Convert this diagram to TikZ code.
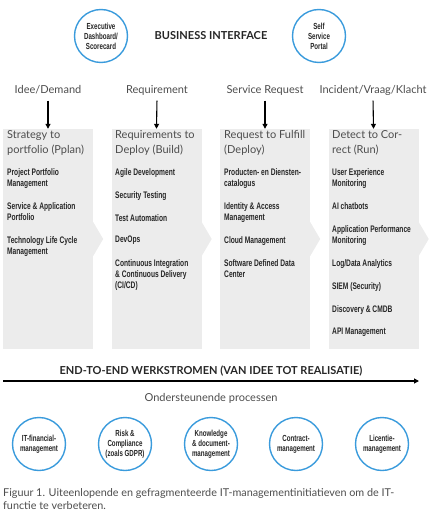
\documentclass[tikz,border=0pt]{standalone}
\usepackage{fontspec}
\setmainfont{Lato}
\newfontfamily\condfont[FakeStretch=0.7]{Liberation Sans}
\usepackage{tikz}
\usetikzlibrary{arrows.meta}
\definecolor{circblue}{HTML}{3A9BDC}
\definecolor{boxgray}{HTML}{ECECEC}
\definecolor{txtgray}{HTML}{4D4D4D}
\tikzset{
  portal/.style={circle, draw=circblue, line width=1.4pt, fill=white,
    minimum size=53pt, inner sep=0pt, align=center,
    font=\condfont\bfseries\fontsize{8.8}{10}\selectfont, text=black!85},
  colbox/.style={fill=boxgray, minimum width=90pt, minimum height=220pt, inner sep=0pt},
  colhead/.style={font=\fontsize{11}{13}\selectfont, text=txtgray,
    text height=8pt, text depth=2pt},
  coltitle/.style={anchor=north west, inner sep=0pt, align=left,
    font=\fontsize{11}{15}\selectfont, text=txtgray},
  item/.style={anchor=north west, inner sep=0pt, align=left,
    font=\condfont\bfseries\fontsize{9.5}{11.3}\selectfont, text=black!85},
  flow/.style={line width=1.1pt, -{Triangle[length=5pt,width=5pt]}},
  banner/.style={font=\bfseries\fontsize{11}{13}\selectfont, text=black!85},
}

\begin{document}
\begin{tikzpicture}[x=1pt, y=-1pt]
	\useasboundingbox (0,0) rectangle (434,519);

	% business interface
	\node[portal] (dash) at (101,36) {Executive\\Dashboard/\\Scorecard};
	\node[portal] (self) at (319,36) {Self\\Service\\Portal};
	\node[banner] (bi) at (211,36) {BUSINESS INTERFACE};

	% columns
	\node[colbox] (b1) at (48,239) {};
	\node[colbox] (b2) at (156.5,239) {};
	\node[colbox] (b3) at (265,239) {};
	\node[colbox] (b4) at (373.5,239) {};
	\foreach \b in {b1,b2,b3,b4}
		\fill[boxgray] (\b.east) ++(0,-17) -- ++(10,17) -- ++(-10,17) -- cycle;

	\node[colhead] (h1) at (48,90) {Idee/Demand};
	\node[colhead] (h2) at (157,90) {Requirement};
	\node[colhead] (h3) at (265,90) {Service Request};
	\node[colhead] (h4) at (373,90) {Incident/Vraag/Klacht};
	\draw[flow, shorten <=2pt] (h1.south) -- (b1.north);
	\draw[flow, shorten <=2pt] (h2.south) -- (b2.north);
	\draw[flow, shorten <=2pt] (h3.south) -- (b3.north);
	\draw[flow, shorten <=2pt] (h4.south) -- (b4.north);

	% column 1
	\node[coltitle] (t1) at (7,130) {Strategy to\\portfolio (Pplan)};
	\node[item] (p1) at (7,168) {Project Portfolio\\Management};
	\node[item] (p2) at (7,202) {Service \& Application\\Portfolio};
	\node[item] (p3) at (7,236) {Technology Life Cycle\\Management};

	% column 2
	\node[coltitle] (t2) at (115,130) {Requirements to\\Deploy (Build)};
	\node[item] (r1) at (115,168) {Agile Development};
	\node[item] (r2) at (115,191) {Security Testing};
	\node[item] (r3) at (115,214) {Test Automation};
	\node[item] (r4) at (115,236) {DevOps};
	\node[item] (r5) at (115,259) {Continuous Integration\\\& Continuous Delivery\\(CI/CD)};

	% column 3
	\node[coltitle] (t3) at (224,130) {Request to Fulfill\\(Deploy)};
	\node[item] (d1) at (224,168) {Producten- en Diensten-\\catalogus};
	\node[item] (d2) at (224,202) {Identity \& Access\\Management};
	\node[item] (d3) at (224,236) {Cloud Management};
	\node[item] (d4) at (224,259) {Software Defined Data\\Center};

	% column 4
	\node[coltitle] (t4) at (332,130) {Detect to Cor-\\rect (Run)};
	\node[item] (c1) at (332,168) {User Experience\\Monitoring};
	\node[item] (c2) at (332,202) {AI chatbots};
	\node[item] (c3) at (332,225) {Application Performance\\Monitoring};
	\node[item] (c4) at (332,259) {Log/Data Analytics};
	\node[item] (c5) at (332,282) {SIEM (Security)};
	\node[item] (c6) at (332,305) {Discovery \& CMDB};
	\node[item] (c7) at (332,328) {API Management};

	% end-to-end flow
	\node[banner] (e2e) at (211,371) {END-TO-END WERKSTROMEN (VAN IDEE TOT REALISATIE)};
	\coordinate (fs) at (3,381);
	\coordinate (fe) at (419,381);
	\draw[flow] (fs) -- (fe);
	\node[colhead] (sup) at (211,398) {Ondersteunende processen};

	% supporting processes
	\node[portal] (s1) at (39,444) {IT-financial-\\management};
	\node[portal] (s2) at (125,444) {Risk \&\\Compliance\\(zoals GDPR)};
	\node[portal] (s3) at (211,444) {Knowledge\\\& document-\\management};
	\node[portal] (s4) at (296,444) {Contract-\\management};
	\node[portal] (s5) at (382,444) {Licentie-\\management};

	% caption
	\node[anchor=north west, inner sep=0pt, align=left, text=txtgray,
		font=\fontsize{10.8}{13}\selectfont] (cap) at (3,488)
		{Figuur 1. Uiteenlopende en gefragmenteerde IT-managementinitiatieven om de IT-\\functie te verbeteren.};
\end{tikzpicture}
\end{document}
